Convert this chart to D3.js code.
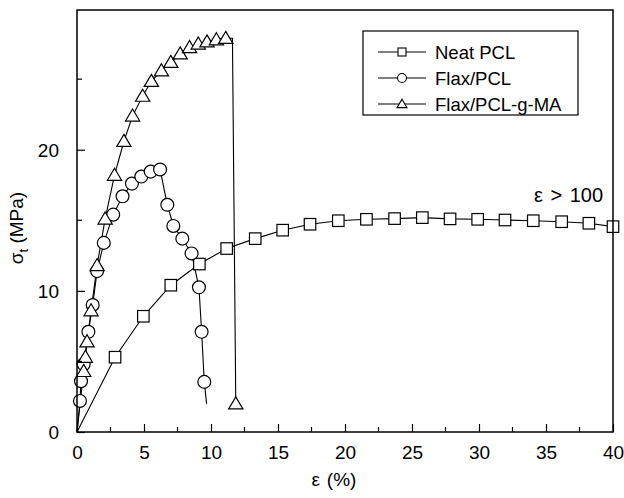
<!DOCTYPE html>
<html>
<head>
<meta charset="utf-8">
<script src="https://cdn.jsdelivr.net/npm/d3@7"></script>
<style>
  body { margin: 0; background: #fff; }
  svg { display: block; font-family: "Liberation Sans", Arial, sans-serif; }
</style>
</head>
<body>
<svg id="chart" width="624" height="498"></svg>
<script>
// courbes contrainte-déformation, valeurs lues sur la figure
// m = 1 : point avec symbole, m = 0 : point de la ligne seulement
var neatX = [0, 2.84, 4.95, 7.0, 9.13, 11.17, 13.3, 15.35, 17.39, 19.5, 21.6, 23.7, 25.77, 27.84, 29.9, 31.94, 34.05, 36.17, 38.2, 40];
var neatY = [0, 5.3, 8.2, 10.4, 11.9, 13.0, 13.7, 14.3, 14.72, 14.97, 15.07, 15.12, 15.19, 15.1, 15.07, 15.02, 14.97, 14.9, 14.79, 14.55];
var neatM = [0, 1, 1, 1, 1, 1, 1, 1, 1, 1, 1, 1, 1, 1, 1, 1, 1, 1, 1, 1];

var flaxX = [0, 0.22, 0.3, 0.5, 0.85, 1.17, 1.5, 2.0, 2.7, 3.4, 4.1, 4.8, 5.5, 6.2, 6.74, 7.19, 7.86, 8.55, 9.1, 9.3, 9.5, 9.67];
var flaxY = [0, 2.2, 3.6, 4.8, 7.1, 9.0, 11.4, 13.4, 15.4, 16.7, 17.6, 18.1, 18.45, 18.6, 16.1, 14.6, 13.7, 12.65, 10.25, 7.1, 3.55, 2.0];
var flaxM = [0, 1, 1, 1, 1, 1, 1, 1, 1, 1, 1, 1, 1, 1, 1, 1, 1, 1, 1, 1, 1, 0];

var maX = [0, 0.5, 0.63, 0.75, 1.05, 1.5, 2.1, 2.8, 3.5, 4.15, 4.9, 5.55, 6.3, 7.0, 7.7, 8.4, 9.05, 9.7, 10.4, 11.1, 11.6, 11.85];
var maY = [0, 4.3, 5.3, 6.4, 8.6, 11.8, 15.1, 18.2, 20.6, 22.4, 23.8, 24.85, 25.6, 26.2, 26.8, 27.25, 27.5, 27.65, 27.8, 27.9, 27.9, 2.0];
var maM = [0, 1, 1, 1, 1, 1, 1, 1, 1, 1, 1, 1, 1, 1, 1, 1, 1, 1, 1, 1, 0, 1];

var seriesNames = ["Neat PCL", "Flax/PCL", "Flax/PCL-g-MA"];
var xTicks = [0, 5, 10, 15, 20, 25, 30, 35, 40];
var yTicks = [0, 10, 20];

// bords du cadre (pas "top" : c'est window.top)
var pLeft = 77, pRight = 613, pTop = 10, pBottom = 432;

var svg = d3.select("#chart");

var x = d3.scaleLinear().domain([0, 40]).range([pLeft, pRight]);
var y = d3.scaleLinear().domain([0, 29.9]).range([pBottom, pTop]);

function toPts(xs, ys, ms) {
  return xs.map((v, i) => ({ x: v, y: ys[i], m: ms[i] }));
}

var series = [
  { name: seriesNames[0], pts: toPts(neatX, neatY, neatM), shape: "square" },
  { name: seriesNames[1], pts: toPts(flaxX, flaxY, flaxM), shape: "circle" },
  { name: seriesNames[2], pts: toPts(maX, maY, maM), shape: "triangle" }
];

// symbole creux
function marker(g, shape, s) {
  if (shape == "square") {
    g.append("rect").attr("x", -s / 2).attr("y", -s / 2).attr("width", s).attr("height", s);
  } else if (shape == "circle") {
    g.append("circle").attr("r", s * 0.56);
  } else {
    var h = s * 0.62;
    g.append("path").attr("d", `M0,${-s * 0.6}L${h},${s * 0.45}L${-h},${s * 0.45}Z`);
  }
}

var line = d3.line().x(d => x(d.x)).y(d => y(d.y));

series.forEach(s => {
  svg.append("path")
    .attr("d", line(s.pts))
    .attr("fill", "none")
    .attr("stroke", "#000")
    .attr("stroke-width", 1.1);
});

series.forEach(s => {
  svg.append("g")
    .selectAll("g")
    .data(s.pts.filter(d => d.m == 1))
    .join("g")
    .attr("transform", d => `translate(${x(d.x)},${y(d.y)})`)
    .attr("fill", "#fff")
    .attr("stroke", "#000")
    .attr("stroke-width", 1.2)
    .each(function () { marker(d3.select(this), s.shape, 11.5); });
});

// axes, graduations vers l'intérieur
var xAxis = d3.axisBottom(x).tickValues(xTicks).tickSize(-8).tickPadding(14).tickFormat(d3.format("d"));
var yAxis = d3.axisLeft(y).tickValues(yTicks).tickSize(-8).tickPadding(18).tickFormat(d3.format("d"));

var gx = svg.append("g").attr("transform", `translate(0,${pBottom})`).call(xAxis);
var gy = svg.append("g").attr("transform", `translate(${pLeft},0)`).call(yAxis);

[gx, gy].forEach(g => {
  g.select(".domain").remove();
  g.selectAll("line").attr("stroke", "#000").attr("stroke-width", 1.2);
  g.selectAll("text").attr("font-size", 19).attr("fill", "#000").attr("font-family", "Liberation Sans, Arial, sans-serif");
});
gy.selectAll("text").attr("dy", "0.36em");

// graduations secondaires
svg.append("g")
  .selectAll("line")
  .data(d3.range(2.5, 40, 5))
  .join("line")
  .attr("x1", d => x(d)).attr("x2", d => x(d))
  .attr("y1", pBottom).attr("y2", pBottom - 5)
  .attr("stroke", "#000").attr("stroke-width", 1.2);

svg.append("g")
  .selectAll("line")
  .data([5, 15, 25])
  .join("line")
  .attr("y1", d => y(d)).attr("y2", d => y(d))
  .attr("x1", pLeft).attr("x2", pLeft + 5)
  .attr("stroke", "#000").attr("stroke-width", 1.2);

// cadre
svg.append("rect")
  .attr("x", pLeft).attr("y", pTop)
  .attr("width", pRight - pLeft).attr("height", pBottom - pTop)
  .attr("fill", "none").attr("stroke", "#000").attr("stroke-width", 1.5);

// titres des axes
svg.append("text")
  .attr("x", 334).attr("y", 486)
  .attr("text-anchor", "middle")
  .attr("font-size", 19)
  .attr("word-spacing", 1.5)
  .text("ε (%)");

var yl = svg.append("text")
  .attr("transform", "translate(23,228) rotate(-90)")
  .attr("text-anchor", "middle")
  .attr("font-size", 19);
yl.append("tspan").text("σ");
yl.append("tspan").attr("font-size", 13).attr("dy", 5).text("t");
yl.append("tspan").attr("dy", -5).text(" (MPa)");

svg.append("text")
  .attr("x", 603).attr("y", 202)
  .attr("text-anchor", "end")
  .attr("font-size", 20)
  .attr("word-spacing", 2)
  .text("ε > 100");

// légende
var leg = svg.append("g");
leg.append("rect")
  .attr("x", 363).attr("y", 31).attr("width", 215).attr("height", 84)
  .attr("fill", "#fff").attr("stroke", "#000").attr("stroke-width", 1.2);

var legRows = [52, 78, 104];
series.forEach((s, i) => {
  var row = leg.append("g").attr("transform", `translate(0,${legRows[i]})`);
  row.append("line").attr("x1", 378).attr("x2", 426).attr("y1", 0).attr("y2", 0)
    .attr("stroke", "#000").attr("stroke-width", 1.1);
  var m = row.append("g").attr("transform", "translate(402,0)")
    .attr("fill", "#fff").attr("stroke", "#000").attr("stroke-width", 1.1);
  marker(m, s.shape, 8);
  row.append("text").attr("x", 435).attr("y", 6.5).attr("font-size", 18.5).text(s.name);
});
</script>
</body>
</html>
